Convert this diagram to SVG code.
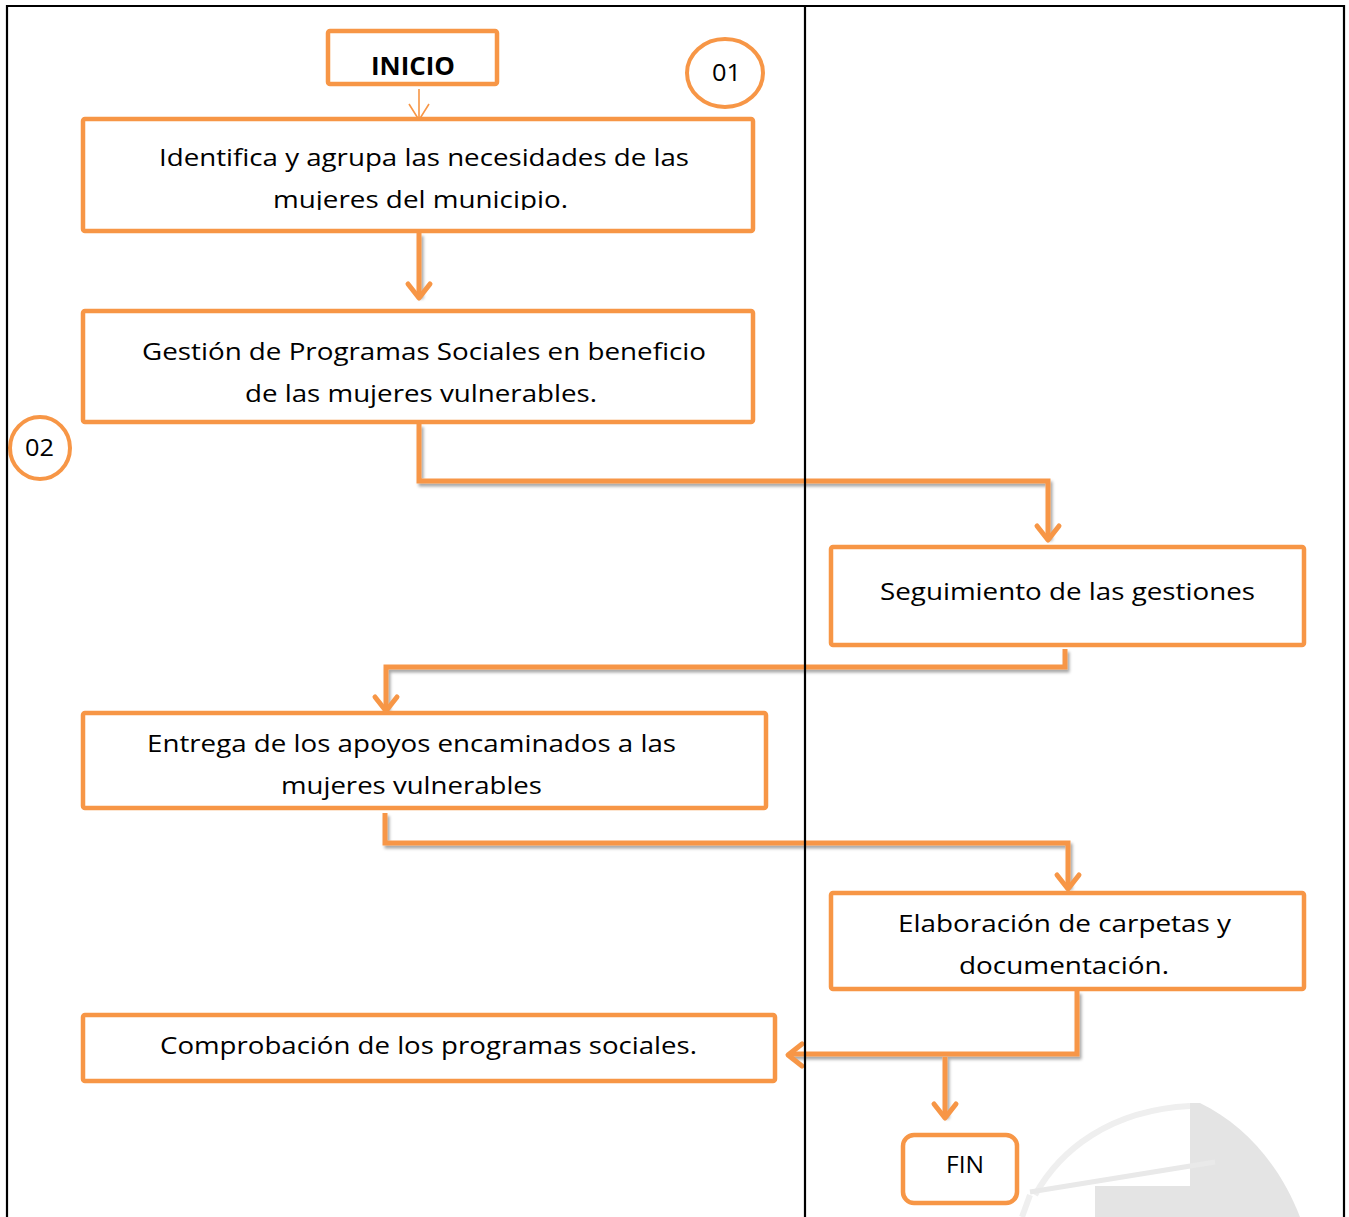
<svg xmlns="http://www.w3.org/2000/svg" width="1349" height="1217" viewBox="0 0 1349 1217">
<defs>
<filter id="sh" x="-5%" y="-5%" width="110%" height="120%">
<feDropShadow dx="2" dy="3" stdDeviation="1.8" flood-color="#000" flood-opacity="0.35"/>
</filter>
<clipPath id="clip1"><rect x="83" y="119" width="670" height="91"/></clipPath>
<style>
.box{fill:#fff;stroke:#F79646;stroke-width:4.5}
.circ{fill:#fff;stroke:#F79646;stroke-width:4}
.con{fill:none;stroke:#F79646;stroke-width:5;stroke-linejoin:miter}
.head{fill:none;stroke:#F79646;stroke-width:5;stroke-linecap:round;stroke-linejoin:round}
.thin{fill:none;stroke:#F79646;stroke-width:1.6}
.t{font-family:"Open Sans","Noto Sans","Liberation Sans",sans-serif;font-size:24.5px;fill:#000;text-anchor:middle}
.tb{font-weight:bold}
.grid{stroke:#000;stroke-width:2.2}
.wm{fill:#e4e4e4}
</style>
</defs>
<rect width="1349" height="1217" fill="#fff"/>

<!-- watermark -->
<g id="watermark">
<path class="wm" d="M1190,1103 L1200,1103 C1245,1125 1280,1165 1300,1217 L1190,1217 Z"/>
<path d="M1190,1106 C1110,1110 1060,1150 1035,1195" fill="none" stroke="#efefef" stroke-width="6"/>
<path d="M1030,1192 L1215,1162" fill="none" stroke="#e9e9e9" stroke-width="5"/>
<path d="M1030,1195 L1022,1217" fill="none" stroke="#efefef" stroke-width="6"/>
<rect class="wm" x="1095" y="1186" width="95" height="31"/>
</g>

<g id="connectors">
<g filter="url(#sh)">
<path class="con" d="M419,233 V296"/>
<path class="con" d="M419,424 V481 H1048 V538"/>
<path class="con" d="M1065,649 V667 H386 V709"/>
<path class="con" d="M385,813 V843 H1068 V887"/>
<path class="con" d="M1077,991 V1054 H790"/>
<path class="con" d="M945,1057 V1116"/>
</g>
<path class="thin" d="M419,89 V120 M409,104 L419,120 L429,104"/>
<path class="head" d="M408,284 L419,298 L430,284"/>
<path class="head" d="M1037,526 L1048,540 L1059,526"/>
<path class="head" d="M375,697 L386,711 L397,697"/>
<path class="head" d="M1057,875 L1068,889 L1079,875"/>
<path class="head" d="M802,1044 L788,1055 L802,1066"/>
<path class="head" d="M934,1104 L945,1118 L956,1104"/>
</g>

<g id="inicio">
<rect class="box" x="328" y="31" width="169" height="53" rx="2"/>
<text class="t tb" x="413" y="75" textLength="84" lengthAdjust="spacingAndGlyphs">INICIO</text>
</g>
<g id="label01">
<ellipse class="circ" cx="725" cy="73" rx="38" ry="34"/>
<text class="t" x="726.5" y="81" font-size="22" textLength="29" lengthAdjust="spacingAndGlyphs">01</text>
</g>
<g id="label02">
<ellipse class="circ" cx="40" cy="448" rx="30" ry="31"/>
<text class="t" x="39.5" y="456" font-size="22" textLength="29" lengthAdjust="spacingAndGlyphs">02</text>
</g>

<g id="n1">
<rect class="box" x="83" y="119" width="670" height="112" rx="2"/>
<g clip-path="url(#clip1)">
<text class="t" x="424" y="166" textLength="530" lengthAdjust="spacingAndGlyphs">Identifica y agrupa las necesidades de las</text>
<text class="t" x="420.5" y="208" textLength="295" lengthAdjust="spacingAndGlyphs">mujeres del municipio.</text>
</g>
</g>
<g id="n2">
<rect class="box" x="83" y="311" width="670" height="111" rx="2"/>
<text class="t" x="424" y="360" textLength="564" lengthAdjust="spacingAndGlyphs">Gestión de Programas Sociales en beneficio</text>
<text class="t" x="421" y="402" textLength="352" lengthAdjust="spacingAndGlyphs">de las mujeres vulnerables.</text>
</g>
<g id="n3">
<rect class="box" x="831" y="547" width="473" height="98" rx="2"/>
<text class="t" x="1067.5" y="600" textLength="375" lengthAdjust="spacingAndGlyphs">Seguimiento de las gestiones</text>
</g>
<g id="n4">
<rect class="box" x="83" y="713" width="683" height="95" rx="2"/>
<text class="t" x="411.5" y="752" textLength="529" lengthAdjust="spacingAndGlyphs">Entrega de los apoyos encaminados a las</text>
<text class="t" x="411.5" y="794" textLength="261" lengthAdjust="spacingAndGlyphs">mujeres vulnerables</text>
</g>
<g id="n5">
<rect class="box" x="831" y="893" width="473" height="96" rx="2"/>
<text class="t" x="1064.5" y="932" textLength="333" lengthAdjust="spacingAndGlyphs">Elaboración de carpetas y</text>
<text class="t" x="1064" y="974" textLength="210" lengthAdjust="spacingAndGlyphs">documentación.</text>
</g>
<g id="n6">
<rect class="box" x="83" y="1015" width="692" height="66" rx="2"/>
<text class="t" x="428.5" y="1054" textLength="537" lengthAdjust="spacingAndGlyphs">Comprobación de los programas sociales.</text>
</g>
<g id="fin">
<rect class="box" x="903" y="1135" width="114" height="68" rx="11"/>
<text class="t" x="965" y="1173" font-size="23" textLength="38" lengthAdjust="spacingAndGlyphs">FIN</text>
</g>

<g id="table">
<line class="grid" x1="6" y1="6" x2="1345" y2="6"/>
<line class="grid" x1="7" y1="5" x2="7" y2="1217"/>
<line class="grid" x1="805" y1="5" x2="805" y2="1217"/>
<line class="grid" x1="1344" y1="5" x2="1344" y2="1217"/>
</g>
</svg>
